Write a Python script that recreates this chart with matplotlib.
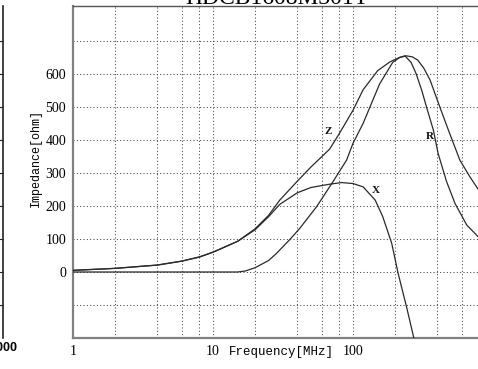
import matplotlib
matplotlib.use("Agg")
import matplotlib.pyplot as plt

# ---- data ----
freq_Z = [1, 2, 4, 6, 8, 10, 15, 20, 25, 30, 40, 50, 68, 80, 100, 118, 150, 184, 215, 240, 265, 290, 320, 355, 417, 490, 580, 680, 800]
Z = [5, 11, 21, 33, 46, 60, 93, 131, 172, 218, 275, 318, 372, 420, 490, 552, 610, 637, 650, 655, 652, 642, 618, 582, 500, 420, 339, 290, 245]

freq_R = [1, 5, 10, 15, 17, 20, 25, 28.5, 35.5, 41.8, 55, 72, 90, 100, 118, 155, 192, 215, 235, 260, 283, 310, 335, 375, 405, 465, 535, 650, 800]
R = [0, 0, 0, 0, 3, 13, 35, 57, 99, 133, 198, 274, 339, 390, 450, 570, 635, 650, 655, 635, 600, 550, 500, 430, 360, 275, 208, 142, 103]

freq_X = [1, 2, 4, 6, 8, 10, 15, 20, 25, 30, 40, 50, 68, 83, 100, 118, 144, 163, 189, 210, 241, 272, 300]
X = [5, 11, 21, 33, 45, 60, 93, 128, 168, 205, 240, 256, 266, 271, 268, 258, 218, 168, 87, -4, -105, -200, -290]

y_ticks = [0, 100, 200, 300, 400, 500, 600]
y_grid = [-100, 0, 100, 200, 300, 400, 500, 600, 700]
x_ticks = [1, 10, 100]
x_tick_labels = ["1", "10", "100"]
x_grid = [2, 4, 6, 8, 10, 20, 40, 60, 80, 100, 200, 400, 600, 800]
title = "HDCB1608M301T"

W, H = 478, 369
fig = plt.figure(figsize=(W / 100, H / 100), dpi=100)

def px(x0, y0, x1, y1):
    return [x0 / W, 1 - y1 / H, (x1 - x0) / W, (y1 - y0) / H]

# partial neighbour chart at the far left
axl = fig.add_axes(px(-300, 6, 3, 338))
axl.set_ylim(-200, 806)
for s in ["left", "top", "bottom"]:
    axl.spines[s].set_visible(False)
axl.spines["right"].set_color("#222222")
axl.spines["right"].set_linewidth(1.2)
axl.set_xticks([])
axl.set_yticks([-100, 0, 100, 200, 300, 400, 500, 600, 700])
axl.tick_params(axis="y", left=False, right=True, direction="in", length=3,
                labelleft=False, labelright=False, color="#222222")
fig.text(17 / W, 1 - 348 / H, "1000", ha="right", va="center",
         fontsize=9, fontweight="bold", family="Liberation Sans")

# main chart
ax = fig.add_axes(px(73, 6, 493, 338))
ax.set_xscale("log")
ax.set_xlim(1, 1000)
ax.set_ylim(-200, 806)

for v in y_grid:
    ax.axhline(v, color="#444444", lw=0.75, ls=(0, (1, 2.2)), zorder=1)
for v in x_grid:
    ax.axvline(v, color="#444444", lw=0.75, ls=(0, (1, 2.2)), zorder=1)

lc = "#2a2a2a"
ax.plot(freq_Z, Z, color=lc, lw=0.9, zorder=3)
ax.plot(freq_R, R, color=lc, lw=0.9, zorder=3)
ax.plot(freq_X, X, color=lc, lw=0.9, zorder=3)

lab_kw = dict(fontsize=8, fontweight="bold", family="Liberation Serif",
              ha="center", va="center", color="#111111", zorder=4)
ax.text(66, 427, "Z", **lab_kw)
ax.text(355, 412, "R", **lab_kw)
ax.text(146, 248, "X", **lab_kw)

ax.set_yticks(y_ticks)
ax.set_yticklabels([str(v) for v in y_ticks], family="Liberation Serif", fontsize=10)
ax.set_xticks(x_ticks)
ax.set_xticklabels(x_tick_labels, family="Liberation Serif", fontsize=10)
ax.xaxis.set_minor_locator(matplotlib.ticker.NullLocator())
ax.tick_params(axis="both", length=0)
ax.tick_params(axis="y", pad=5)
ax.tick_params(axis="x", pad=5)

ax.spines["right"].set_visible(False)
ax.spines["left"].set_color("#808080")
ax.spines["left"].set_linewidth(1.6)
ax.spines["bottom"].set_color("#808080")
ax.spines["bottom"].set_linewidth(1.6)
ax.spines["top"].set_color("#555555")
ax.spines["top"].set_linewidth(1.0)

ax.set_xlabel("Frequency[MHz]", family="Liberation Mono", fontsize=9)
ax.xaxis.set_label_coords((281 - 73) / 420, -(346 - 338) / 332)
ax.set_ylabel("Impedance[ohm]", family="Liberation Mono", fontsize=8.5)
ax.yaxis.set_label_coords((42 - 73) / 420, (338 - 158) / 332)

fig.text(277 / W, 1 - 4 / H, title, ha="center", va="baseline",
         fontsize=17, family="Liberation Serif")

fig.savefig("out.png", dpi=100)
